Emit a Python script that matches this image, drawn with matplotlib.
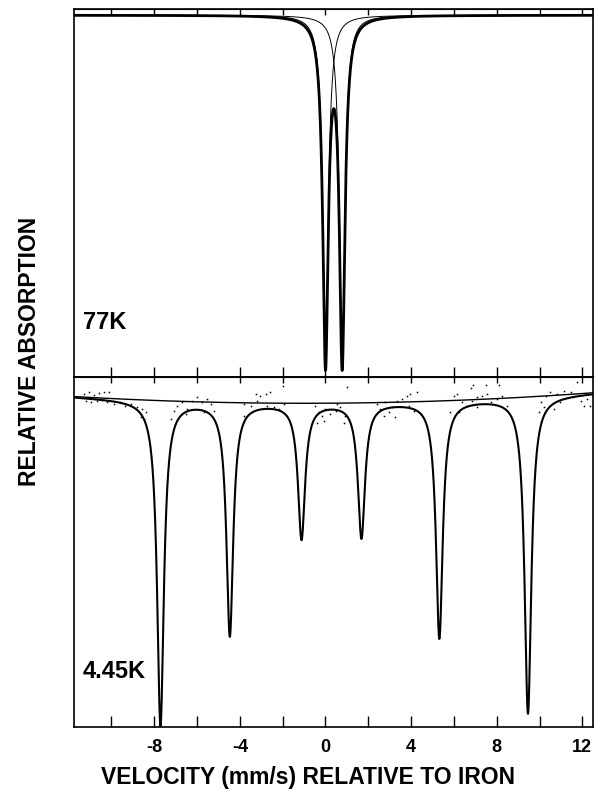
import numpy as np
import matplotlib
matplotlib.use('Agg')
import matplotlib.pyplot as plt

plt.rcParams['font.family'] = ['Liberation Sans', 'DejaVu Sans']
plt.rcParams['font.weight'] = 'bold'

# --- 77K doublet (fit parameters) ---
top_centers = [0.0, 0.78]
top_depths = [0.93, 0.93]
top_hwhm = [0.155, 0.155]
top_baseline = 0.983

# --- 4.45K sextet ---
hfs_centers = [-7.71, -4.47, -1.12, 1.68, 5.32, 9.46]
hfs_depths = [0.926, 0.663, 0.385, 0.383, 0.675, 0.902]
hfs_hwhm = [0.19, 0.19, 0.2, 0.2, 0.19, 0.19]
base_v = [-11.7, -1.0, 12.5]
base_y = [0.944, 0.925, 0.955]

# scattered data points that stand off the fit (4.45K)
dots_v = [-11.29, -11.06, -10.83, -10.59, -10.36, -10.12, -11.21, -10.98, -10.67, -10.44,
          -10.20, -9.89, -9.58, -9.35, -9.11, -8.80, -8.57, -8.41, -8.64, -8.49,
          -7.09, -6.93, -6.70, -6.46, -6.23, -6.00, -5.76, -5.53, -5.37, -5.22, -6.54, -5.69, -7.24,
          -3.82, -3.50, -3.27, -3.04, -2.80, -2.57, -3.19, -2.73, -2.41, -2.18, -1.95, -3.43, -3.82,
          -0.47, -0.31, -0.16, 0.0, 0.23, 0.47, -0.39, -0.08, 0.70, 0.93, 0.86, 0.55,
          2.41, 2.57, 2.80, 2.96, 3.12, 3.35, 3.58, 3.82, 3.97, 4.28, 3.89, 4.13, 4.44, 3.27, 2.73,
          5.99, 6.15, 6.39, 6.62, 6.85, 7.09, 7.32, 7.55, 7.71, 8.02, 8.26, 8.49, 5.84, 6.23, 6.78, 7.09,
          10.05, 10.28, 10.51, 10.83, 11.14, 11.45, 11.76, 11.92, 12.23, 12.38, 10.98, 10.67, 12.07, 10.20, 9.97,
          -2.0, 1.0, 6.9, 7.5, 8.1]
dots_y = [0.951, 0.956, 0.949, 0.954, 0.956, 0.958, 0.932, 0.928, 0.932, 0.935,
          0.928, 0.923, 0.928, 0.918, 0.923, 0.913, 0.909, 0.899, 0.885, 0.880,
          0.904, 0.918, 0.928, 0.909, 0.932, 0.942, 0.928, 0.937, 0.923, 0.904, 0.894, 0.899, 0.880,
          0.923, 0.918, 0.951, 0.947, 0.951, 0.956, 0.932, 0.918, 0.913, 0.909, 0.923, 0.899, 0.890,
          0.918, 0.899, 0.890, 0.909, 0.894, 0.904, 0.870, 0.875, 0.913, 0.890, 0.870, 0.923,
          0.923, 0.909, 0.928, 0.899, 0.913, 0.932, 0.937, 0.947, 0.951, 0.956, 0.918, 0.904, 0.894, 0.885, 0.890,
          0.947, 0.951, 0.928, 0.918, 0.932, 0.942, 0.947, 0.951, 0.928, 0.937, 0.947, 0.918, 0.899, 0.899, 0.970, 0.913,
          0.928, 0.947, 0.956, 0.951, 0.961, 0.956, 0.985, 0.932, 0.937, 0.918, 0.928, 0.909, 0.918, 0.913, 0.899,
          0.975, 0.972, 0.978, 0.978, 0.978]

xticks = list(range(-10, 13, 2))
xticklabels = ['', '-8', '', '-4', '', '0', '', '4', '', '8', '', '12']
xmin, xmax = -11.75, 12.5


def lorentz(v, c, d, g):
    return d * g**2 / (g**2 + (v - c)**2)


v = np.linspace(xmin, xmax, 4000)

fig = plt.figure(figsize=(5.96, 7.93), dpi=100)
ax1 = fig.add_axes([0.1242, 0.5246, 0.8708, 0.4641])
ax2 = fig.add_axes([0.1242, 0.0826, 0.8708, 0.442])

# 77K: single components thin, total fit thick
total = np.full_like(v, top_baseline)
for c, d, g in zip(top_centers, top_depths, top_hwhm):
    comp = lorentz(v, c, d, g)
    ax1.plot(v, top_baseline - comp, color='k', lw=0.7)
    total -= comp
ax1.plot(v, total, color='k', lw=2.0)

# 4.45K: curved baseline and sextet fit
coef = np.polyfit(base_v, base_y, 2)
base = np.polyval(coef, v)
total2 = base.copy()
for c, d, g in zip(hfs_centers, hfs_depths, hfs_hwhm):
    total2 -= lorentz(v, c, d, g)
ax2.plot(v, base, color='k', lw=1.0)
ax2.plot(v, total2, color='k', lw=1.5)
ax2.plot(dots_v, dots_y, 's', color='k', ms=1.1, mew=0)

for ax in (ax1, ax2):
    ax.set_xlim(xmin, xmax)
    ax.set_ylim(0, 1)
    ax.set_yticks([])
    ax.set_xticks(xticks)
    for s in ax.spines.values():
        s.set_linewidth(1.2)
    sec = ax.secondary_xaxis('top')
    sec.set_xticks(xticks)
    sec.set_xticklabels([])
    sec.tick_params(direction='in', length=4, width=1.0)

ax1.tick_params(axis='x', direction='in', length=7, width=1.0, labelbottom=False)
ax2.set_xticklabels(xticklabels)
ax2.tick_params(axis='x', direction='in', length=8, width=1.0, labelsize=13, pad=8)

ax1.text(0.017, 0.13, '77K', transform=ax1.transAxes, fontsize=17, fontweight='bold')
ax2.text(0.017, 0.141, '4.45K', transform=ax2.transAxes, fontsize=17, fontweight='bold')

fig.text(0.5176, 0.019, 'VELOCITY (mm/s) RELATIVE TO IRON', ha='center', va='center',
         fontsize=16.5, fontweight='bold')
fig.text(0.0503, 0.557, 'RELATIVE ABSORPTION', ha='center', va='center', rotation=90,
         fontsize=16.5, fontweight='bold')

fig.savefig('out.png', dpi=100)
